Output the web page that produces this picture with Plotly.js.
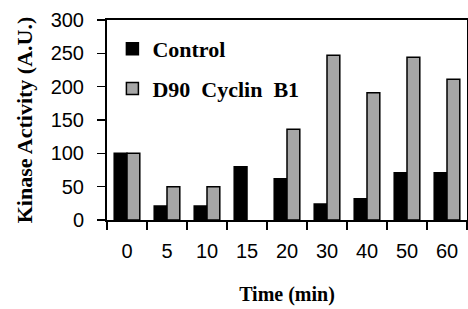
<!DOCTYPE html>
<html>
<head>
<script src="https://cdn.plot.ly/plotly-3.0.1.min.js"></script>
<style>html,body{margin:0;padding:0;background:#fff;}</style>
</head>
<body>
<div id="chart" style="width:468px;height:309px;"></div>
<script>
const categories = ["0","5","10","15","20","30","40","50","60"];
const controlValues = [100, 21, 21, 80, 62, 24, 32, 71, 71];
const d90Values = [100, 50, 50, 0, 136, 247, 191, 244, 211];
const seriesNames = ["<b>Control</b>", "<b>D90  Cyclin  B1</b>"];

const outline = vals => vals.map(v => v > 0 ? 1.5 : 0);

const traces = [
  {type:"bar", x:categories, y:controlValues, name:seriesNames[0], legendgroup:"a",
   marker:{color:"#000000", line:{color:"#000000", width:outline(controlValues)}}},
  {type:"bar", x:categories, y:d90Values, name:seriesNames[1], legendgroup:"b",
   marker:{color:"#a6a6a6", line:{color:"#000000", width:outline(d90Values)}}}
];

const serif = "Liberation Serif, Times New Roman, serif";
const sans = "Liberation Sans, Arial, sans-serif";

const layout = {
  width:468, height:309,
  margin:{l:107, r:1, t:20, b:89},
  paper_bgcolor:"#fff", plot_bgcolor:"#fff",
  bargap:0.36, bargroupgap:0,
  showlegend:true,
  legend:{x:0.015, y:0.96, xanchor:"left", yanchor:"top",
    bgcolor:"rgba(0,0,0,0)", itemwidth:30, traceorder:"grouped", tracegroupgap:8,
    font:{family:serif, size:22, color:"#000"}},
  xaxis:{type:"category", tickson:"boundaries", ticks:"outside", ticklen:8, tickwidth:1.5,
    tickcolor:"#000", showline:true, linecolor:"#000", linewidth:2, mirror:true,
    ticklabelstandoff:12,
    tickfont:{family:sans, size:20, color:"#000"},
    title:{text:"<b>Time (min)</b>", standoff:26,
      font:{family:serif, size:20, color:"#000"}}},
  yaxis:{range:[0,300], dtick:50, ticks:"outside", ticklen:8, tickwidth:1.5, tickcolor:"#000",
    showline:true, linecolor:"#000", linewidth:2, mirror:true, showgrid:false, zeroline:false,
    ticklabelstandoff:9,
    tickfont:{family:sans, size:20, color:"#000"},
    title:{text:"<b>Kinase Activity (A.U.)</b>", standoff:12,
      font:{family:serif, size:22, color:"#000"}}}
};

Plotly.newPlot("chart", traces, layout, {displayModeBar:false, staticPlot:true});
</script>
</body>
</html>
